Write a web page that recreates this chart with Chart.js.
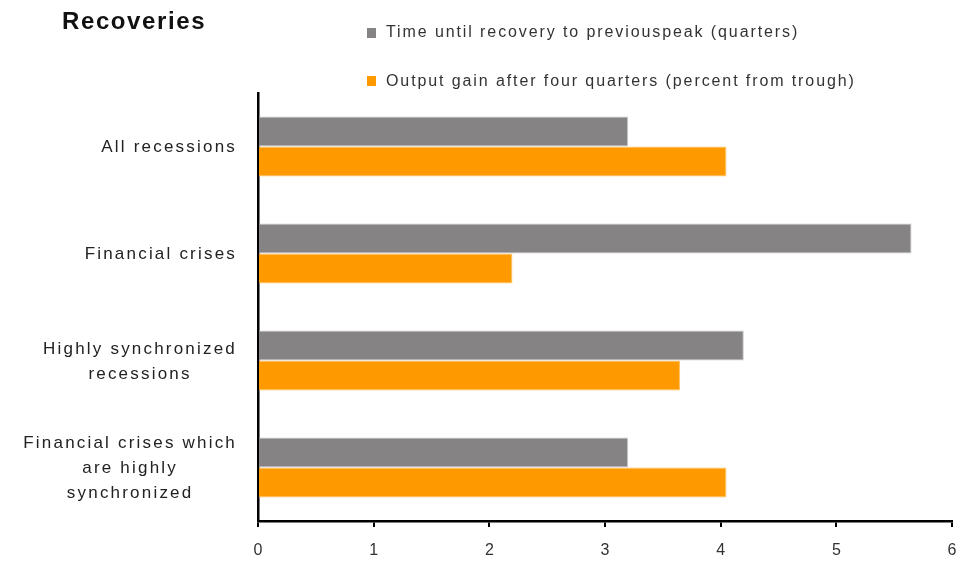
<!DOCTYPE html>
<html>
<head>
<meta charset="utf-8">
<script src="https://cdn.jsdelivr.net/npm/chart.js@4.4.1/dist/chart.umd.min.js"></script>
<style>
  html, body { margin: 0; padding: 0; background: #fff; }
  #wrap { position: relative; width: 971px; height: 561px; font-family: "Liberation Sans", Arial, sans-serif; }
  #chart { position: absolute; left: 0; top: 0; }
  .title { position: absolute; left: 62px; top: 9px; font-size: 24px; line-height: 24px; font-weight: bold; color: #111; letter-spacing: 1.6px; }
  .leg { position: absolute; left: 386px; font-size: 16px; line-height: 16px; color: #333; letter-spacing: 1.9px; white-space: nowrap; }
  .sw { position: absolute; left: 367px; width: 9px; height: 10px; }
</style>
</head>
<body>
<div id="wrap">
  <canvas id="chart" width="971" height="561"></canvas>
  <div class="title">Recoveries</div>
  <div class="sw" style="top: 28px; background: #868385;"></div>
  <div class="leg" id="leg0" style="top: 24px;"></div>
  <div class="sw" style="top: 76px; background: #ff9900;"></div>
  <div class="leg" id="leg1" style="top: 73px;"></div>
</div>
<script>
const categories = [
    ['All recessions'],
    ['Financial crises'],
    ['Highly synchronized', 'recessions'],
    ['Financial crises which', 'are highly', 'synchronized']
];
const seriesNames = [
    'Time until recovery to previouspeak (quarters)',
    'Output gain after four quarters  (percent from trough)'
];
const timeToPeak = [3.2, 5.65, 4.2, 3.2];
const outputGain = [4.05, 2.2, 3.65, 4.05];
const xTicks = [0, 1, 2, 3, 4, 5, 6];

document.getElementById('leg0').textContent = seriesNames[0];
document.getElementById('leg1').textContent = seriesNames[1];

// category labels: each block right-aligned, lines centred inside the block
const catLabels = {
    id: 'catLabels',
    afterDraw(chart) {
        const ctx = chart.ctx;
        const y = chart.scales.y;
        ctx.save();
        ctx.font = '17px "Liberation Sans", Arial, sans-serif';
        ctx.letterSpacing = '2.2px';
        ctx.fillStyle = '#222';
        ctx.textAlign = 'center';
        ctx.textBaseline = 'middle';
        const lh = 25;
        categories.forEach((lines, i) => {
            const cy = y.getPixelForTick(i);
            const w = Math.max(...lines.map(l => ctx.measureText(l).width));
            const cx = 237 - w / 2;
            const y0 = cy - (lines.length - 1) * lh / 2 + 1;
            lines.forEach((l, j) => ctx.fillText(l, cx, y0 + j * lh));
        });
        ctx.restore();
    }
};

new Chart(document.getElementById('chart'), {
    type: 'bar',
    data: {
        labels: categories.map(c => c.join(' ')),
        datasets: [
            {
                label: seriesNames[0],
                data: timeToPeak,
                backgroundColor: '#868385',
                borderColor: '#c8c6c8',
                borderWidth: 1,
                borderSkipped: 'start',
                categoryPercentage: 0.56,
                barPercentage: 1
            },
            {
                label: seriesNames[1],
                data: outputGain,
                backgroundColor: '#ff9900',
                borderColor: '#ffc266',
                borderWidth: 1,
                borderSkipped: 'start',
                categoryPercentage: 0.56,
                barPercentage: 1
            }
        ]
    },
    options: {
        indexAxis: 'y',
        responsive: false,
        animation: false,
        layout: { padding: { left: 258, right: 19, top: 93, bottom: 0 } },
        plugins: {
            legend: { display: false },
            tooltip: { enabled: false }
        },
        scales: {
            x: {
                min: xTicks[0],
                max: xTicks[xTicks.length - 1],
                afterFit: s => { s.height = 40; },
                afterBuildTicks: s => { s.ticks = xTicks.map(v => ({ value: v })); },
                grid: { drawOnChartArea: false, drawTicks: true, tickLength: 6, color: '#000', lineWidth: 2 },
                border: { display: true, color: '#000', width: 2.5 },
                ticks: {
                    font: { family: '"Liberation Sans", Arial, sans-serif', size: 16 },
                    color: '#333',
                    padding: 14,
                    maxRotation: 0
                }
            },
            y: {
                afterFit: s => { s.width = 0; },
                grid: { display: false },
                border: { display: true, color: '#000', width: 2.5 },
                ticks: { display: false }
            }
        }
    },
    plugins: [catLabels]
});
</script>
</body>
</html>
